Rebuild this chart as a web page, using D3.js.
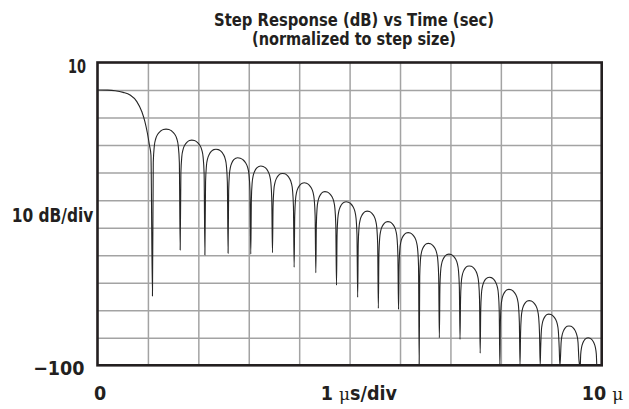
<!DOCTYPE html>
<html><head><meta charset="utf-8">
<script src="https://cdn.jsdelivr.net/npm/d3@7"></script>
<style>
body{margin:0;background:#fff}
text{font-family:"Liberation Sans Narrow","Arial Narrow","DejaVu Sans Condensed","Roboto",sans-serif;font-weight:bold;fill:#231f20}
</style>
</head><body>
<svg id="c" width="629" height="409"></svg>
<script>
// ---- data ----
const titleLines = ["Step Response (dB) vs Time (sec)", "(normalized to step size)"];
const xDomain = [0, 10];          // microseconds
const yDomain = [-100, 10];       // dB
const xGrid = [1, 2, 3, 4, 5, 6, 7, 8, 9];
const yGrid = [0, -10, -20, -30, -40, -50, -60, -70, -80, -90];
const yTickLabels = ["10", "\u2212100"];
const yTickValues = [10, -100];
const xTickLabels = ["0", "10 "];
const xTickValues = [0, 10];
const yAxisTitle = "10 dB/div";
const xAxisTitle = ["1 ", "\u03bc", "s/div"];

// main lobe (time in us, level in dB)
const mainT  = [0, 0.2, 0.35, 0.51, 0.645, 0.78, 0.88, 0.94, 0.99, 1.03, 1.06];
const mainDb = [0, -0.05, -0.25, -0.85, -1.8, -4.2, -7.9, -11.5, -15.7, -20, -23.6];
// nulls (time, depth)
const nullT  = [1.09, 1.64, 2.13, 2.59, 3.04, 3.47, 3.90, 4.33, 4.74, 5.16, 5.57, 5.97, 6.38, 6.78, 7.19, 7.59, 7.98, 8.38, 8.78, 9.17, 9.56, 9.92];
const nullDb = [-74.8, -58.1, -59.9, -59.3, -59.6, -59.1, -64.4, -66.4, -70.9, -75.3, -79.3, -79.7, -100, -90.0, -90.6, -95.6, -100, -100, -100, -100, -100, -100];
// side-lobe peaks (time, level)
const peakT  = [1.36, 1.87, 2.35, 2.78, 3.24, 3.67, 4.10, 4.51, 4.93, 5.35, 5.76, 6.16, 6.56, 6.97, 7.37, 7.77, 8.16, 8.56, 8.95, 9.35, 9.73];
const peakDb = [-14.2, -18.2, -21.5, -24.6, -27.6, -30.3, -33.7, -36.9, -40.6, -44.0, -47.8, -51.8, -55.7, -59.6, -63.9, -68.0, -72.4, -76.5, -81.4, -85.7, -90.0];
// side-lobe profile: position in lobe, level relative to peak
const lobeU   = [0.03, 0.07, 0.12, 0.2, 0.3, 0.4, 0.6, 0.7, 0.8, 0.88, 0.93, 0.97];
const lobeRel = [-12, -6, -3.5, -1.8, -0.7, -0.15, -0.15, -0.7, -1.8, -3.5, -6, -12];

// ---- layout ----
const svg = d3.select("#c");
const L = 97.5, R = 601.7, T = 62.5, B = 365.3;
const x = d3.scaleLinear().domain(xDomain).range([L, R]);
const y = d3.scaleLinear().domain(yDomain).range([B, T]);

// grid via axes
svg.append("g").attr("transform", `translate(0,${B})`)
  .call(d3.axisBottom(x).tickValues(xGrid).tickSize(-(B - T)).tickFormat(""))
  .call(g => g.select(".domain").remove())
  .call(g => g.selectAll("line").attr("stroke", "#a3a3a3").attr("stroke-width", 1.5));
svg.append("g").attr("transform", `translate(${L},0)`)
  .call(d3.axisLeft(y).tickValues(yGrid).tickSize(-(R - L)).tickFormat(""))
  .call(g => g.select(".domain").remove())
  .call(g => g.selectAll("line").attr("stroke", "#a3a3a3").attr("stroke-width", 1.5));

// curve points
const pts = mainT.map((t, i) => ({t, db: mainDb[i]}));
for (let i = 0; i < peakT.length; i++) {
  const a = nullT[i], b = nullT[i + 1], p = peakT[i];
  pts.push({t: a, db: nullDb[i]});
  lobeU.forEach((u, k) => {
    if (u < 0.5) {
      pts.push({t: a + (p - a) * (u / 0.5), db: peakDb[i] + lobeRel[k]});
      if (lobeU[k + 1] > 0.5) pts.push({t: p, db: peakDb[i]});
    } else {
      pts.push({t: p + (b - p) * ((u - 0.5) / 0.5), db: peakDb[i] + lobeRel[k]});
    }
  });
}
pts.push({t: nullT[nullT.length - 1], db: nullDb[nullDb.length - 1]});

svg.append("clipPath").attr("id", "clip").append("rect")
  .attr("x", L).attr("y", T).attr("width", R - L).attr("height", B - T);

const line = d3.line().x(d => x(d.t)).y(d => y(d.db)).curve(d3.curveMonotoneX);
svg.append("path").datum(pts).attr("d", line)
  .attr("clip-path", "url(#clip)")
  .attr("fill", "none").attr("stroke", "#262626").attr("stroke-width", 1.1)
  .attr("stroke-linejoin", "round");

// frame
svg.append("rect").attr("x", L).attr("y", T).attr("width", R - L).attr("height", B - T)
  .attr("fill", "none").attr("stroke", "#231f20").attr("stroke-width", 2.6);

// titles
svg.append("text").attr("x", 354).attr("y", 25.5).attr("text-anchor", "middle")
  .attr("font-size", 18.5).attr("textLength", 280).attr("lengthAdjust", "spacingAndGlyphs")
  .text(titleLines[0]);
svg.append("text").attr("x", 354).attr("y", 44.5).attr("text-anchor", "middle")
  .attr("font-size", 18.5).attr("textLength", 204).attr("lengthAdjust", "spacingAndGlyphs")
  .text(titleLines[1]);

// y tick labels
svg.append("text").attr("x", x(0) - 11.5).attr("y", y(yTickValues[0]) + 10)
  .attr("text-anchor", "end").attr("font-size", 19.5).attr("textLength", 18).attr("lengthAdjust", "spacingAndGlyphs")
  .text(yTickLabels[0]);
svg.append("text").attr("x", x(0) - 13).attr("y", y(yTickValues[1]) + 10)
  .attr("text-anchor", "end").attr("font-size", 19.5).text(yTickLabels[1]);

// y axis title
svg.append("text").attr("x", 11.7).attr("y", 222).attr("font-size", 19.5)
  .attr("textLength", 81.6).attr("lengthAdjust", "spacingAndGlyphs").text(yAxisTitle);

// x tick labels
svg.append("text").attr("x", x(xTickValues[0]) + 2.5).attr("y", 400)
  .attr("text-anchor", "middle").attr("font-size", 19.5).text(xTickLabels[0]);
const t10 = svg.append("text").attr("x", 581.7).attr("y", 400).attr("font-size", 19.5);
t10.append("tspan").text(xTickLabels[1]);
t10.append("tspan").attr("font-weight", "normal").attr("font-family", "'DejaVu Serif','Liberation Serif',serif").attr("font-size", 17).text("\u03bc");

// x axis title
const xt = svg.append("text").attr("x", 320.7).attr("y", 400).attr("font-size", 19.5);
xt.append("tspan").text(xAxisTitle[0]);
xt.append("tspan").attr("font-weight", "normal").attr("font-family", "'DejaVu Serif','Liberation Serif',serif").attr("font-size", 17).text(xAxisTitle[1]);
xt.append("tspan").text(xAxisTitle[2]);
</script>
</body></html>
